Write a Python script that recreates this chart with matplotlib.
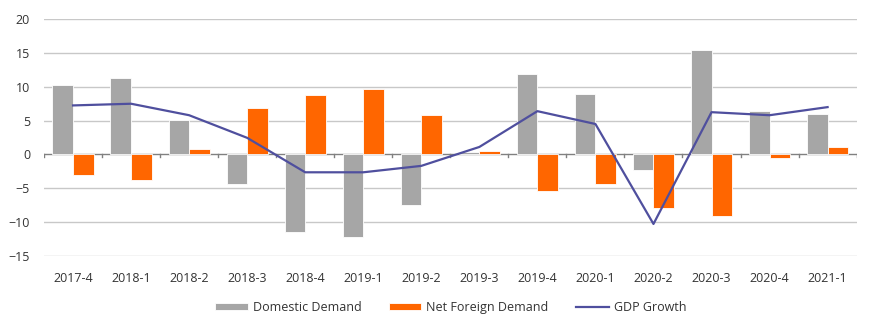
import numpy as np
import matplotlib.pyplot as plt

quarters = ['2017-4', '2018-1', '2018-2', '2018-3', '2018-4', '2019-1', '2019-2',
            '2019-3', '2019-4', '2020-1', '2020-2', '2020-3', '2020-4', '2021-1']
domestic = [10.3, 11.3, 5.1, -4.35, -11.5, -12.25, -7.5, 0.4, 11.9, 8.9, -2.3, 15.45, 6.4, 6.0]
net_foreign = [-3.05, -3.85, 0.8, 6.85, 8.8, 9.65, 5.8, 0.5, -5.45, -4.35, -7.95, -9.15, -0.55, 1.1]
gdp = [7.25, 7.5, 5.8, 2.45, -2.65, -2.65, -1.7, 1.1, 6.4, 4.5, -10.3, 6.25, 5.8, 7.0]
yticks = [-15, -10, -5, 0, 5, 10, 15, 20]

plt.rcParams['font.family'] = ['Open Sans', 'DejaVu Sans']

fig = plt.figure(figsize=(8.75, 3.34), dpi=100)
ax = fig.add_axes([0.0503, 0.2344, 0.9287, 0.7078])

x = np.arange(len(quarters))
w = 0.355
b1 = ax.bar(x - w / 2, domestic, w, color='#A6A6A6', edgecolor='white', linewidth=0.6,
            label='Domestic Demand', zorder=2)
b2 = ax.bar(x + w / 2, net_foreign, w, color='#FF6600', edgecolor='white', linewidth=0.6,
            label='Net Foreign Demand', zorder=2)
l1, = ax.plot(x, gdp, color='#4F4F9E', linewidth=1.6, label='GDP Growth', zorder=3)

# grid and zero line
for t in yticks:
    if t != 0:
        ax.axhline(t, color='#C8C8C8', linewidth=1.0, zorder=0)
ax.axhline(0, color='#808080', linewidth=1.0, zorder=1)
for b in np.arange(len(quarters) + 1) - 0.5:
    ax.plot([b, b], [0, -0.45], color='#808080', linewidth=1.0, zorder=1)

ax.set_xlim(-0.5, len(quarters) - 0.5)
ax.set_ylim(-15, 20)
ax.set_yticks(yticks)
ax.set_xticks(x)
ax.set_xticklabels(quarters)
ax.tick_params(axis='both', length=0, labelsize=9, colors='#333333')
ax.tick_params(axis='x', pad=12)
ax.tick_params(axis='y', pad=10)
for s in ax.spines.values():
    s.set_visible(False)

fig.legend([b1, b2, l1], ['Domestic Demand', 'Net Foreign Demand', 'GDP Growth'],
           loc='center', bbox_to_anchor=(0.515, 0.08), ncol=3, frameon=False,
           fontsize=9, handlelength=2.6, handleheight=0.5, columnspacing=2.2,
           handletextpad=0.4, labelcolor='#333333')

plt.savefig('out.png')
